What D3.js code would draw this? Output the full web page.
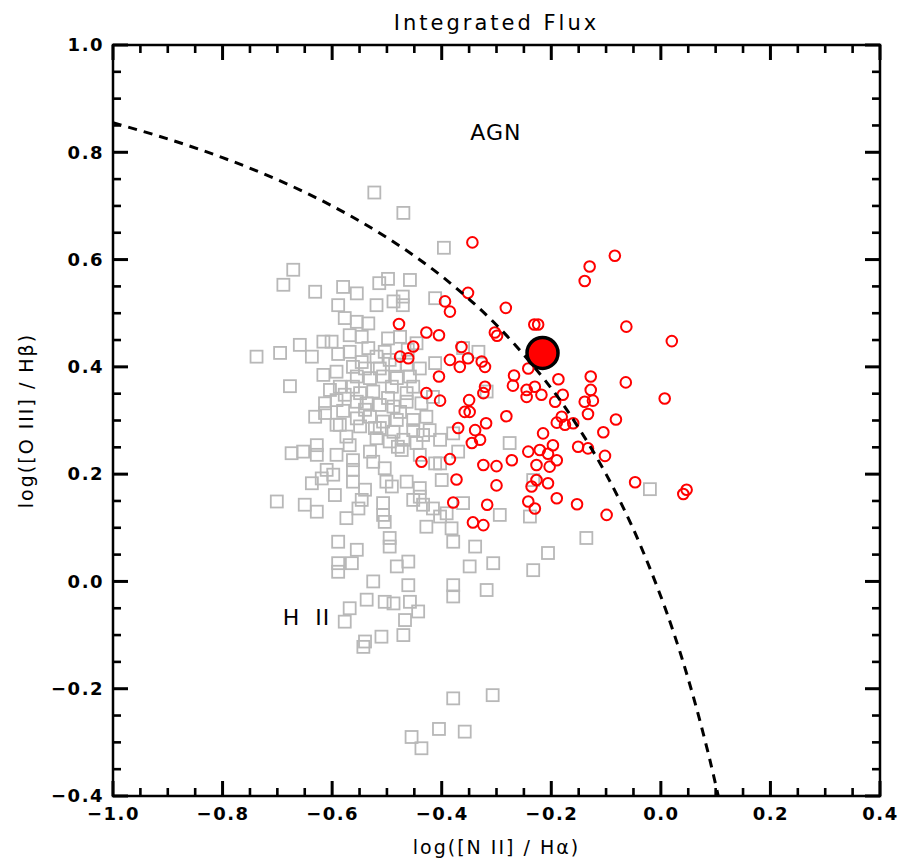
<!DOCTYPE html>
<html lang="en">
<head>
<meta charset="UTF-8">
<title>Integrated Flux</title>
<script src="https://d3js.org/d3.v7.min.js"></script>
<style>
  body { margin: 0; background: #fff; }
  svg text { font-family: "DejaVu Sans", "Liberation Sans", sans-serif; fill: #000; }
  .tick-label text { font-size: 18px; font-weight: bold; letter-spacing: 1.5px; }
  .title { font-size: 21px; letter-spacing: 3px; }
  .axis-title { font-size: 19px; letter-spacing: 2px; }
  .note { font-size: 22px; letter-spacing: 1px; }
</style>
</head>
<body>
<div id="chart"></div>
<script>
// tick values
const xTicks = [-1.0, -0.8, -0.6, -0.4, -0.2, 0.0, 0.2, 0.4];
const yTicks = [-0.4, -0.2, 0.0, 0.2, 0.4, 0.6, 0.8, 1.0];
const xMinor = [-0.95, -0.9, -0.85, -0.75, -0.7, -0.65, -0.55, -0.5, -0.45, -0.35, -0.3, -0.25,
                -0.15, -0.1, -0.05, 0.05, 0.1, 0.15, 0.25, 0.3, 0.35];
const yMinor = [-0.35, -0.3, -0.25, -0.15, -0.1, -0.05, 0.05, 0.1, 0.15, 0.25, 0.3, 0.35,
                0.45, 0.5, 0.55, 0.65, 0.7, 0.75, 0.85, 0.9, 0.95];

// demarcation line
const divider = [
  [-1.0, 0.855], [-0.9, 0.825], [-0.8, 0.790], [-0.7, 0.749], [-0.6, 0.700],
  [-0.5, 0.641], [-0.4, 0.569], [-0.3, 0.478], [-0.2, 0.360], [-0.15, 0.286],
  [-0.1, 0.200], [-0.05, 0.097], [0.0, -0.028], [0.03, -0.116], [0.05, -0.182],
  [0.07, -0.255], [0.09, -0.335], [0.105, -0.401]
];

// integrated-flux point (big dot)
const nucleus = [-0.216, 0.426];

// red circles
const redPoints = [
  [-0.344,0.632],[-0.084,0.607],[-0.130,0.587],[-0.139,0.560],[-0.352,0.538],[-0.394,0.522],
  [-0.385,0.503],[-0.283,0.510],[-0.231,0.479],[-0.224,0.479],[-0.063,0.475],[0.020,0.448],
  [-0.478,0.480],[-0.428,0.464],[-0.405,0.459],[-0.303,0.464],[-0.299,0.458],[-0.452,0.438],
  [-0.476,0.419],[-0.461,0.416],[-0.364,0.437],[-0.352,0.416],[-0.385,0.413],[-0.367,0.400],
  [-0.327,0.410],[-0.321,0.400],[-0.405,0.382],[-0.242,0.397],[-0.268,0.384],[-0.270,0.365],
  [-0.187,0.377],[-0.128,0.382],[-0.128,0.357],[-0.064,0.371],[0.007,0.341],[-0.245,0.357],
  [-0.230,0.363],[-0.218,0.348],[-0.245,0.344],[-0.179,0.348],[-0.193,0.335],[-0.139,0.335],
  [-0.124,0.337],[-0.133,0.312],[-0.321,0.363],[-0.324,0.351],[-0.428,0.351],[-0.403,0.337],
  [-0.350,0.338],[-0.358,0.316],[-0.349,0.316],[-0.282,0.308],[-0.181,0.307],[-0.190,0.296],
  [-0.160,0.295],[-0.175,0.292],[-0.082,0.302],[-0.105,0.278],[-0.215,0.276],[-0.319,0.295],
  [-0.339,0.282],[-0.370,0.286],[-0.330,0.264],[-0.345,0.258],[-0.197,0.254],[-0.151,0.251],
  [-0.133,0.248],[-0.242,0.242],[-0.221,0.245],[-0.206,0.238],[-0.190,0.226],[-0.102,0.234],
  [-0.437,0.223],[-0.385,0.228],[-0.324,0.217],[-0.300,0.215],[-0.272,0.226],[-0.227,0.217],
  [-0.203,0.214],[-0.373,0.190],[-0.300,0.179],[-0.236,0.177],[-0.227,0.189],[-0.206,0.183],
  [-0.047,0.185],[0.041,0.163],[0.047,0.171],[-0.190,0.155],[-0.153,0.144],[-0.099,0.124],
  [-0.379,0.147],[-0.317,0.143],[-0.242,0.149],[-0.230,0.136],[-0.343,0.110],[-0.324,0.105]
];

// grey squares
const greyPoints = [
  [-0.523,0.725],[-0.470,0.687],[-0.396,0.622],[-0.671,0.581],[-0.689,0.553],[-0.631,0.540],
  [-0.580,0.549],[-0.555,0.537],[-0.514,0.556],[-0.458,0.562],[-0.471,0.531],[-0.412,0.528],
  [-0.589,0.515],[-0.519,0.515],[-0.488,0.522],[-0.471,0.515],[-0.577,0.491],[-0.555,0.484],
  [-0.534,0.481],[-0.568,0.459],[-0.546,0.456],[-0.498,0.453],[-0.476,0.456],[-0.446,0.444],
  [-0.738,0.419],[-0.695,0.426],[-0.659,0.441],[-0.637,0.419],[-0.616,0.447],[-0.601,0.447],
  [-0.589,0.424],[-0.568,0.428],[-0.534,0.435],[-0.519,0.419],[-0.504,0.428],[-0.495,0.413],
  [-0.562,0.400],[-0.540,0.397],[-0.513,0.397],[-0.616,0.385],[-0.592,0.391],[-0.555,0.382],
  [-0.531,0.379],[-0.507,0.382],[-0.482,0.379],[-0.458,0.382],[-0.440,0.397],[-0.464,0.404],
  [-0.677,0.364],[-0.604,0.357],[-0.586,0.363],[-0.562,0.363],[-0.549,0.351],[-0.525,0.354],
  [-0.491,0.363],[-0.464,0.351],[-0.452,0.363],[-0.613,0.332],[-0.592,0.338],[-0.555,0.335],
  [-0.537,0.332],[-0.513,0.329],[-0.488,0.326],[-0.464,0.335],[-0.437,0.332],[-0.631,0.307],
  [-0.613,0.314],[-0.592,0.292],[-0.555,0.304],[-0.531,0.307],[-0.507,0.298],[-0.482,0.301],
  [-0.452,0.301],[-0.428,0.307],[-0.412,0.407],[-0.416,0.344],[-0.586,0.292],[-0.549,0.289],
  [-0.513,0.286],[-0.488,0.279],[-0.452,0.282],[-0.434,0.273],[-0.574,0.270],[-0.519,0.267],
  [-0.495,0.261],[-0.470,0.264],[-0.446,0.258],[-0.403,0.264],[-0.379,0.276],[-0.674,0.239],
  [-0.653,0.242],[-0.628,0.254],[-0.628,0.236],[-0.592,0.236],[-0.562,0.226],[-0.531,0.242],
  [-0.525,0.223],[-0.473,0.245],[-0.403,0.220],[-0.610,0.208],[-0.598,0.199],[-0.637,0.183],
  [-0.619,0.192],[-0.562,0.208],[-0.562,0.186],[-0.504,0.211],[-0.501,0.186],[-0.491,0.177],
  [-0.464,0.186],[-0.440,0.174],[-0.400,0.189],[-0.701,0.149],[-0.650,0.143],[-0.628,0.130],
  [-0.595,0.161],[-0.574,0.118],[-0.552,0.136],[-0.546,0.152],[-0.540,0.171],[-0.507,0.146],
  [-0.507,0.124],[-0.504,0.111],[-0.452,0.152],[-0.434,0.143],[-0.416,0.136],[-0.403,0.121],
  [-0.428,0.102],[-0.440,0.158],[-0.382,0.099],[-0.379,0.074],[-0.589,0.074],[-0.555,0.059],
  [-0.589,0.034],[-0.589,0.018],[-0.564,0.034],[-0.495,0.081],[-0.495,0.065],[-0.482,0.028],
  [-0.461,0.037],[-0.525,0.000],[-0.461,-0.007],[-0.379,-0.007],[-0.379,-0.028],[-0.537,-0.034],
  [-0.568,-0.050],[-0.504,-0.038],[-0.488,-0.041],[-0.458,-0.038],[-0.443,-0.056],[-0.467,-0.072],
  [-0.577,-0.075],[-0.510,-0.103],[-0.470,-0.100],[-0.540,-0.112],[-0.543,-0.122],[-0.276,0.258],
  [-0.233,0.021],[-0.306,0.034],[-0.349,0.028],[-0.318,-0.016],[-0.391,0.127],[-0.294,0.124],
  [-0.339,0.065],[-0.361,0.146],[-0.239,0.121],[-0.206,0.053],[-0.136,0.081],[-0.020,0.172],
  [-0.333,0.428],[-0.361,0.435],[-0.318,0.354],[-0.370,0.242],[-0.412,0.220],[-0.233,0.189],
  [-0.498,0.564],[-0.379,-0.218],[-0.307,-0.212],[-0.405,-0.275],[-0.358,-0.280],[-0.455,-0.290],
  [-0.437,-0.311],[-0.577,0.348],[-0.540,0.320],[-0.498,0.342],[-0.476,0.316],[-0.522,0.286],
  [-0.480,0.251],[-0.440,0.236],[-0.580,0.318],[-0.422,0.282],[-0.568,0.254],[-0.546,0.409],
  [-0.485,0.404],[-0.462,0.432]
];

// text labels placed in data space
const notes = [
  { text: "AGN", x: -0.301, y: 0.838 },
  { text: "H", x: -0.674, y: -0.066 },
  { text: "II", x: -0.617, y: -0.066 }
];

const width = 912, height = 867;
const plotLeft = 113, plotRight = 880, plotTop = 45, plotBottom = 796;

const svg = d3.select("#chart").append("svg")
  .attr("width", width)
  .attr("height", height);

const x = d3.scaleLinear().domain([-1.0, 0.4]).range([plotLeft, plotRight]);
const y = d3.scaleLinear().domain([-0.4, 1.0]).range([plotBottom, plotTop]);

svg.append("clipPath").attr("id", "plot-clip")
  .append("rect")
  .attr("x", plotLeft).attr("y", plotTop)
  .attr("width", plotRight - plotLeft).attr("height", plotBottom - plotTop);

// grey squares
svg.append("g")
  .selectAll("rect")
  .data(greyPoints)
  .join("rect")
  .attr("x", d => x(d[0]) - 6)
  .attr("y", d => y(d[1]) - 6)
  .attr("width", 12)
  .attr("height", 12)
  .attr("fill", "none")
  .attr("stroke", "#b8b8b8")
  .attr("stroke-width", 1.8);

// red circles
svg.append("g")
  .selectAll("circle")
  .data(redPoints)
  .join("circle")
  .attr("cx", d => x(d[0]))
  .attr("cy", d => y(d[1]))
  .attr("r", 5.3)
  .attr("fill", "none")
  .attr("stroke", "#ff0000")
  .attr("stroke-width", 2);

// dashed demarcation curve
const curve = d3.line()
  .x(d => x(d[0]))
  .y(d => y(d[1]))
  .curve(d3.curveCatmullRom);

svg.append("path")
  .datum(divider)
  .attr("clip-path", "url(#plot-clip)")
  .attr("d", curve)
  .attr("fill", "none")
  .attr("stroke", "#000")
  .attr("stroke-width", 3)
  .attr("stroke-dasharray", "9,7");

// big point
svg.append("circle")
  .attr("cx", x(nucleus[0]))
  .attr("cy", y(nucleus[1]))
  .attr("r", 15.5)
  .attr("fill", "#ff0000")
  .attr("stroke", "#000")
  .attr("stroke-width", 3.5);

// annotations
svg.append("g")
  .selectAll("text")
  .data(notes)
  .join("text")
  .attr("class", "note")
  .attr("x", d => x(d.x))
  .attr("y", d => y(d.y))
  .attr("dy", "0.35em")
  .attr("text-anchor", "middle")
  .text(d => d.text);

// tick marks on all four sides, pointing inward, drawn as small filled rects
function xTickRects(values, len, w) {
  svg.append("g").selectAll("rect")
    .data(values.flatMap(v => [[v, plotBottom - len], [v, plotTop]]))
    .join("rect")
    .attr("x", d => x(d[0]) - w / 2)
    .attr("y", d => d[1])
    .attr("width", w)
    .attr("height", len)
    .attr("fill", "#000");
}
function yTickRects(values, len, w) {
  svg.append("g").selectAll("rect")
    .data(values.flatMap(v => [[v, plotLeft], [v, plotRight - len]]))
    .join("rect")
    .attr("x", d => d[1])
    .attr("y", d => y(d[0]) - w / 2)
    .attr("width", len)
    .attr("height", w)
    .attr("fill", "#000");
}
xTickRects(xMinor, 8, 2.6);
xTickRects(xTicks, 15, 3);
yTickRects(yMinor, 8, 2.6);
yTickRects(yTicks, 15, 3);

// tick labels
const fmt = d3.format(".1f");
svg.append("g").attr("class", "tick-label")
  .attr("transform", `translate(0,${plotBottom})`)
  .call(d3.axisBottom(x).tickValues(xTicks).tickSize(0).tickPadding(11).tickFormat(fmt))
  .call(g => g.select(".domain").remove());

svg.append("g").attr("class", "tick-label")
  .attr("transform", `translate(${plotLeft},0)`)
  .call(d3.axisLeft(y).tickValues(yTicks).tickSize(0).tickPadding(9).tickFormat(fmt))
  .call(g => g.select(".domain").remove());

// frame
svg.append("rect")
  .attr("x", plotLeft).attr("y", plotTop)
  .attr("width", plotRight - plotLeft).attr("height", plotBottom - plotTop)
  .attr("fill", "none")
  .attr("stroke", "#000")
  .attr("stroke-width", 2.5);

// titles
svg.append("text")
  .attr("class", "title")
  .attr("x", (plotLeft + plotRight) / 2)
  .attr("y", 30)
  .attr("text-anchor", "middle")
  .text("Integrated Flux");

svg.append("text")
  .attr("class", "axis-title")
  .attr("x", (plotLeft + plotRight) / 2)
  .attr("y", 854)
  .attr("text-anchor", "middle")
  .text("log([N II] / Hα)");

svg.append("text")
  .attr("class", "axis-title")
  .attr("transform", `translate(33,${y(0.30)}) rotate(-90)`)
  .attr("text-anchor", "middle")
  .text("log([O III] / Hβ)");
</script>
</body>
</html>
